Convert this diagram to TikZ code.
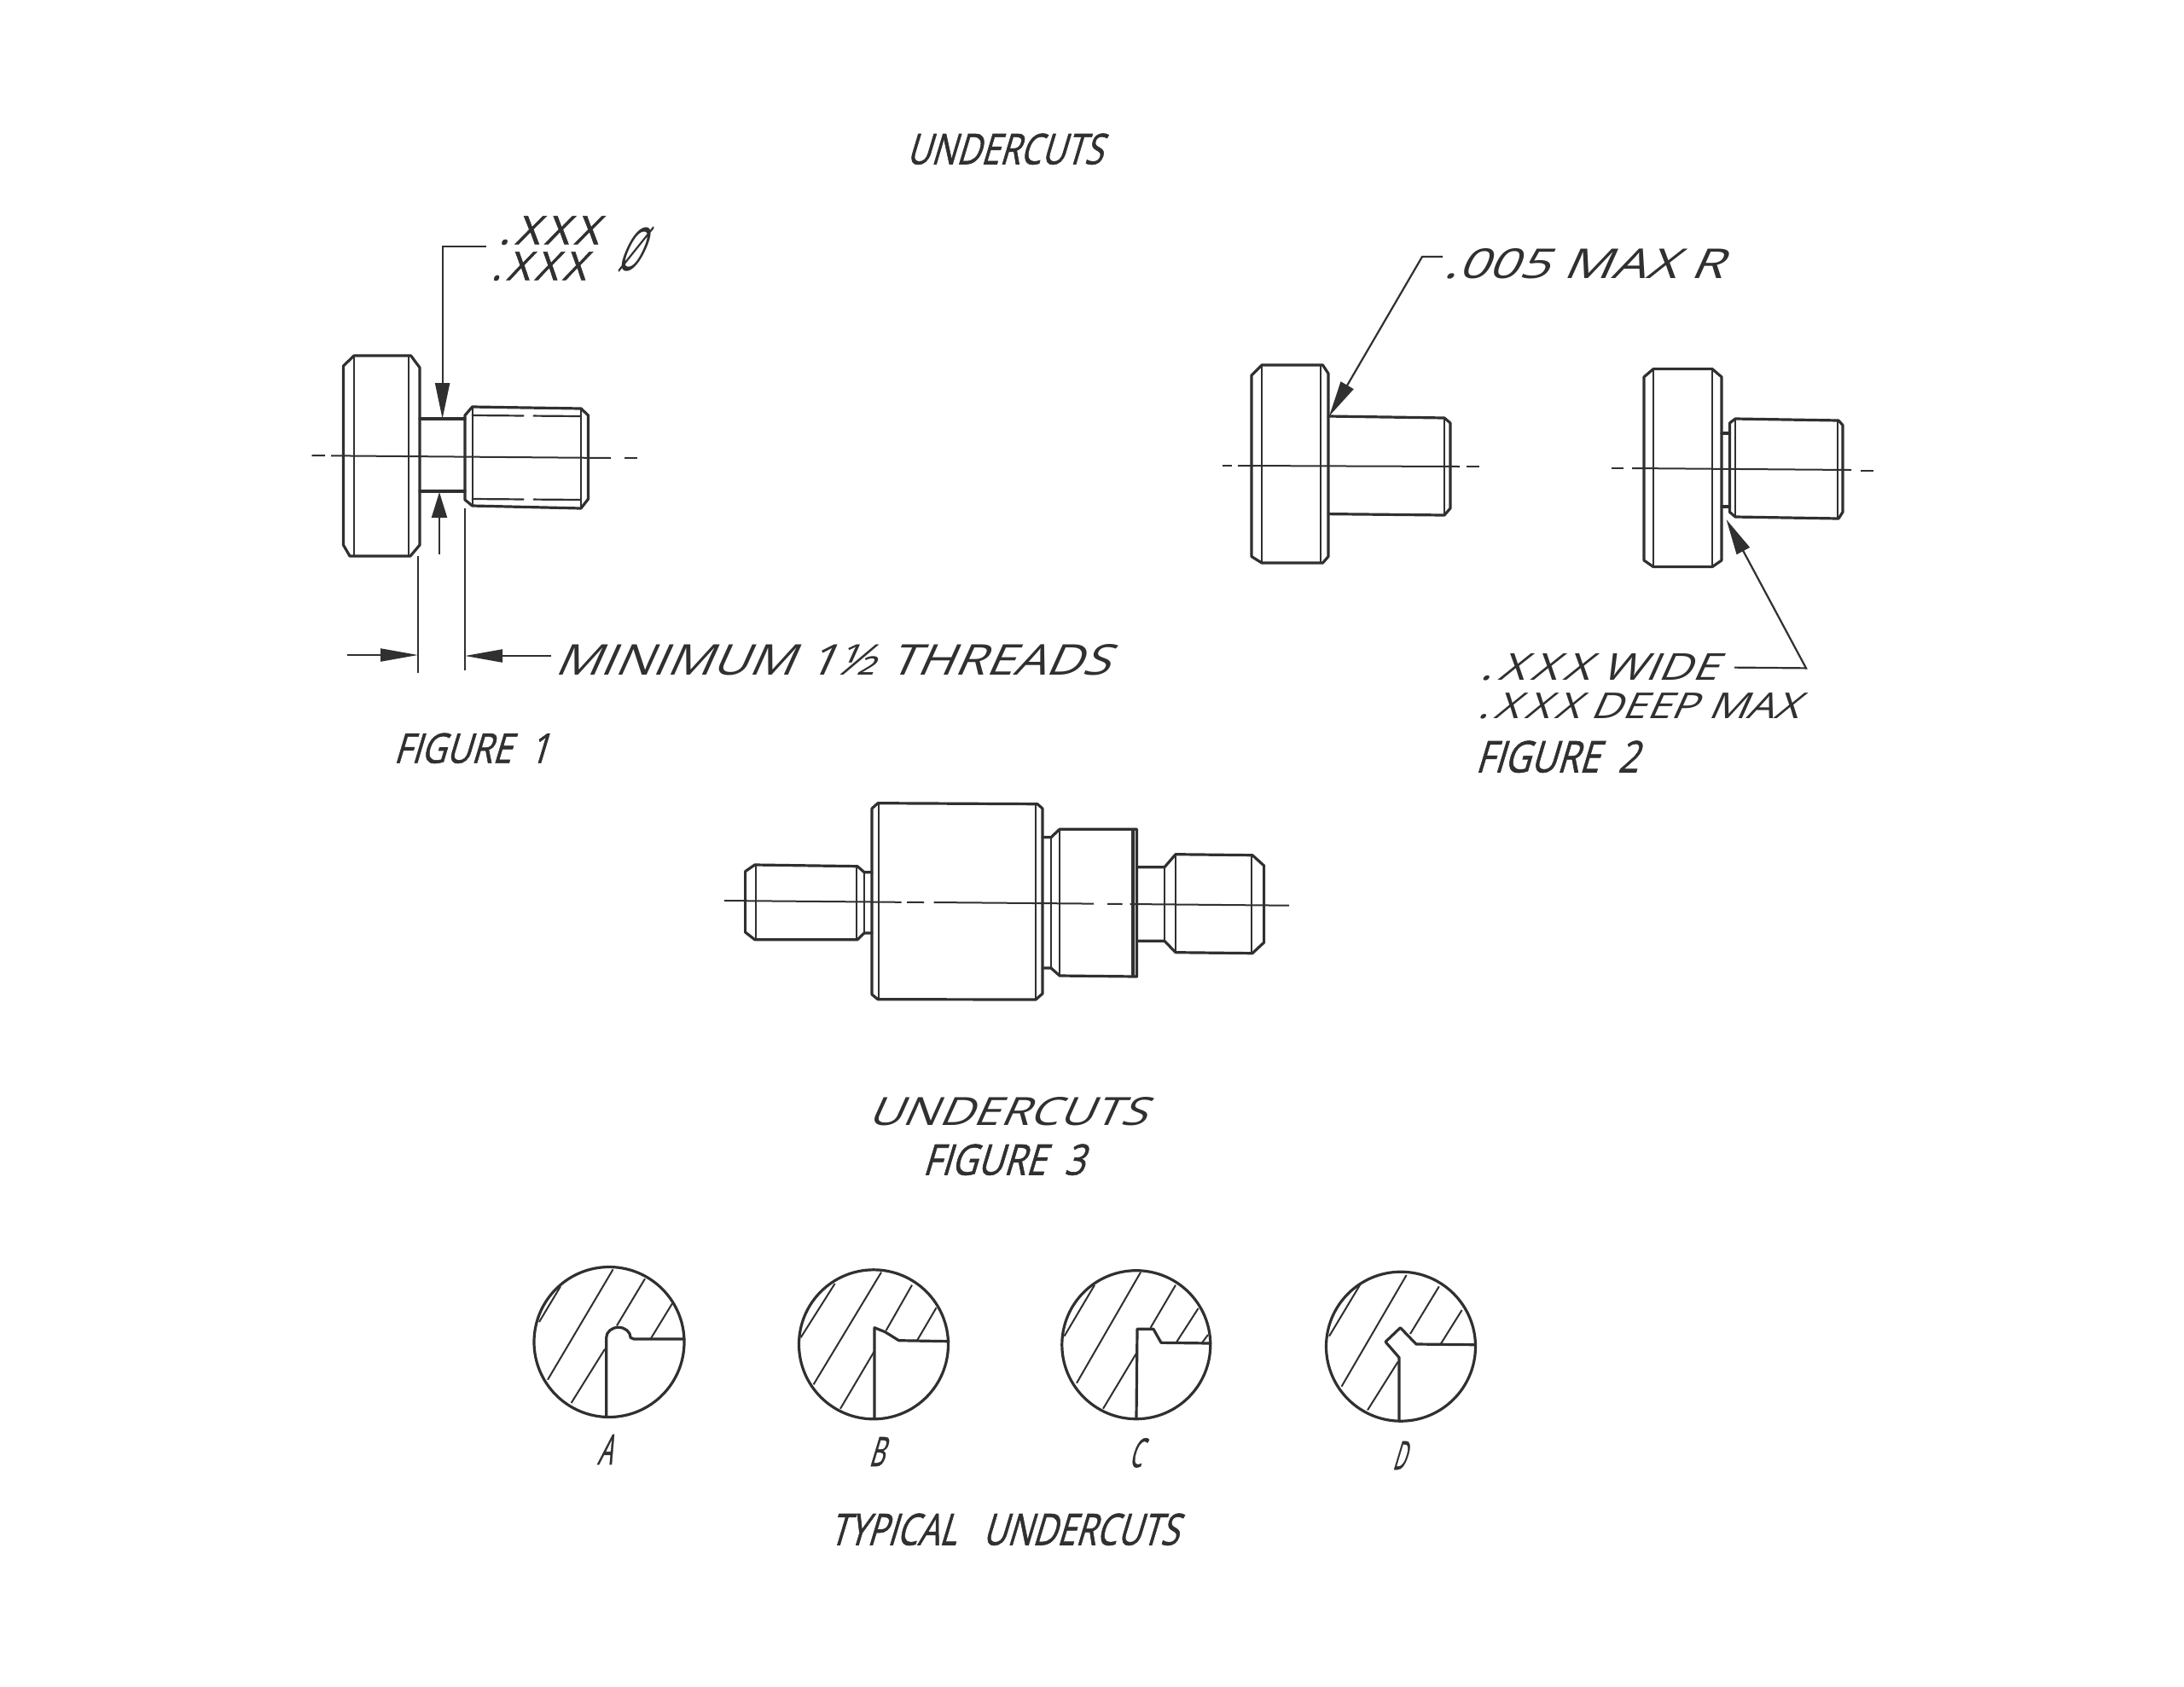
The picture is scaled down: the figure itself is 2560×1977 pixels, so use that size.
\documentclass[tikz,border=0pt]{standalone}
\usepackage{fontspec}
\usepackage{graphicx}
\usetikzlibrary{arrows.meta}
\setmainfont{Open Sans}
\newfontfamily\stencilface[FakeBold=1.2]{Open Sans}
\newlength\pxu
\setlength\pxu{0.5pt}
\definecolor{ink}{HTML}{303030}
\tikzset{
  body/.style={draw=ink,line width=1.6pt,line join=round,line cap=round},
  thin/.style={draw=ink,line width=1.1pt,line cap=round},
  ctr/.style={draw=ink,line width=1.0pt},
  hatchline/.style={draw=ink,line width=1.0pt},
  lead/.style={draw=ink,line width=1.1pt},
  tipa/.style={-{Stealth[length=21pt,width=8.5pt,inset=0pt]}},
  tipb/.style={-{Stealth[length=15pt,width=9pt,inset=0pt]}},
  tipc/.style={-{Stealth[length=22pt,width=7.5pt,inset=0pt]}},
  lettering/.style={anchor=south west,inner sep=0pt,outer sep=0pt,xslant=.3,text=ink},
  handletter/.style={anchor=south west,inner sep=0pt,outer sep=0pt,xslant=.45,text=ink}
}
% squeezed, emboldened caps (the stencilled labels)
\newcommand{\lett}[6]{\node[lettering] (#1) at (#2,#3) {\resizebox{#4\pxu}{#5\pxu}{\stencilface #6}};}
% wide caps, more slanted (the hand-written labels)
\newcommand{\hand}[6]{\node[handletter] (#1) at (#2,#3) {\resizebox{#4\pxu}{#5\pxu}{#6}};}
\newcommand{\lsp}{\kern.12em }
\begin{document}
\begin{tikzpicture}[x=0.5pt,y=-0.5pt]
\useasboundingbox (0,0) rectangle (2560,1977);
\fill[white] (0,0) rectangle (2560,1977);
% title
\lett{title}{1062}{193}{230}{36}{UNDERCUTS}
% ---------- Figure 1
\draw[body] (415,417) -- (481.6,417) -- (492,431) -- (492,639) -- (481,652) -- (410,652) -- (402.5,639) -- (402.5,429) -- cycle;
\draw[thin] (415,417) -- (415,652);
\draw[thin] (479,417) -- (479,652);
\draw[body] (492,491) -- (545,491);
\draw[body] (492,576) -- (545,576);
\draw[body] (545,487) -- (553.6,477) -- (681,479) -- (689.5,487) -- (689.5,585) -- (681,596) -- (553.6,593) -- (545,586) -- cycle;
\draw[thin] (553.6,477) -- (553.6,593);
\draw[thin] (681,479) -- (681,596);
\draw[thin,dash pattern=on 30pt off 6pt] (553.6,487) -- (681,488);
\draw[thin,dash pattern=on 30pt off 6pt] (553.6,585) -- (681,586);
\draw[ctr] (365.5,534) -- (381,534.2);
\draw[ctr] (388,534.3) -- (716,537);
\draw[ctr] (732,537) -- (747,537);
\coordinate (l1a) at (569.6,288.6);
\coordinate (l1b) at (518.6,288.6);
\coordinate (l1c) at (518.6,491);
\coordinate (l2a) at (515,650);
\coordinate (l2b) at (515,577);
\draw[lead,tipa] (l1a) -- (l1b) -- (l1c);
\draw[lead,tipb] (l2a) -- (l2b);
\coordinate (e1a) at (490,652);
\coordinate (e1b) at (490,789);
\coordinate (e2a) at (545,596);
\coordinate (e2b) at (545,785.5);
\draw[lead] (e1a) -- (e1b);
\draw[lead] (e2a) -- (e2b);
\coordinate (d1a) at (407,768);
\coordinate (d1b) at (490,768);
\coordinate (d2a) at (646,769);
\coordinate (d2b) at (545,769);
\draw[lead,tipc] (d1a) -- (d1b);
\draw[lead,tipc] (d2a) -- (d2b);
\lett{xa}{584}{287}{117}{33}{.\lsp X\lsp X\lsp X}
\lett{xb}{575}{329}{111}{33}{.\lsp X\lsp X\lsp X}
\hand{dia}{721}{320}{27}{52}{Ø}
\hand{mini}{649}{792}{651}{36}{MINIMUM 1½ THREADS}
\lett{fig1}{461}{895}{182}{35}{FIGURE\ \ 1}
% ---------- Figure 2 left
\draw[body] (1479,428) -- (1550.5,428) -- (1557,438) -- (1557,652.5) -- (1550.5,660) -- (1479,660) -- (1467,652.5) -- (1467,440) -- cycle;
\draw[thin] (1479,428) -- (1479,660);
\draw[thin] (1548,428) -- (1548,660);
\draw[body] (1557,488) -- (1693,490) -- (1700,496) -- (1700,596) -- (1693,604) -- (1557,602.6);
\draw[thin] (1693,490) -- (1693,604);
\draw[ctr] (1433,546) -- (1444,546);
\draw[ctr] (1451,546) -- (1711,547);
\draw[ctr] (1719,547) -- (1734,547);
\coordinate (r1a) at (1691,301);
\coordinate (r1b) at (1667,301);
\coordinate (r1c) at (1558,488);
\draw[lead,tipa] (r1a) -- (r1b) -- (r1c);
\hand{rad}{1691}{327}{328}{35}{.005 MAX R}
% ---------- Figure 2 right
\draw[body] (1938,432.6) -- (2007,432.6) -- (2018,442) -- (2018,657) -- (2007,664.6) -- (1938,664.6) -- (1927,657) -- (1927,442) -- cycle;
\draw[thin] (1938,432.6) -- (1938,664.6);
\draw[thin] (2007,432.6) -- (2007,664.6);
\draw[body] (2018,508) -- (2027.5,508);
\draw[body] (2018,594) -- (2027.5,594);
\draw[body] (2027.5,496) -- (2034,491) -- (2155,493) -- (2160,498.5) -- (2160,600.4) -- (2155,608) -- (2034,606) -- (2027.5,600.4) -- cycle;
\draw[thin] (2034,491) -- (2034,606);
\draw[thin] (2154,493) -- (2154,608);
\draw[ctr] (1889,549) -- (1903,549);
\draw[ctr] (1913,549) -- (2170,551);
\draw[ctr] (2181,552) -- (2196,552);
\coordinate (w1) at (2033,782.6);
\coordinate (w2) at (2117,783.4);
\coordinate (w3) at (2023.5,609);
\draw[lead,tipa] (w1) -- (w2) -- (w3);
\hand{wide}{1734}{798}{278}{31}{.\lsp X\lsp X\lsp X WIDE}
\hand{deep}{1731}{843}{377}{30}{.\lsp X\lsp X\lsp X DEEP MAX}
\lett{fig2}{1729}{906}{191}{37}{FIGURE\ \ 2}
% ---------- Figure 3
\draw[body] (1022,1022.7) -- (1013,1022.7) -- (1005,1015.7) -- (884.7,1014) -- (873.6,1021.7) -- (873.6,1093) -- (884.7,1101.7) -- (1005,1101.7) -- (1013,1094) -- (1022,1094);
\draw[thin] (885.6,1014) -- (885.6,1101.7);
\draw[thin] (1004,1015.7) -- (1004,1101.7);
\draw[thin] (1013,1022.7) -- (1013,1094);
\draw[body] (1029,941.7) -- (1216,942.7) -- (1222,948) -- (1222,1165) -- (1214,1172) -- (1029,1171.7) -- (1022,1166) -- (1022,948) -- cycle;
\draw[thin] (1030,941.7) -- (1030,1171.7);
\draw[thin] (1214,942.7) -- (1214,1172);
\draw[body] (1222,981.7) -- (1232,981.7) -- (1242,972.3) -- (1332.5,972.3) -- (1332.5,1145) -- (1242,1144) -- (1232,1135) -- (1222,1135);
\draw[thin] (1232,981.7) -- (1232,1135);
\draw[thin] (1242,972.3) -- (1242,1144);
\draw[body] (1328,974) -- (1328,1143);
\draw[body] (1332.5,1016.7) -- (1365,1016.7) -- (1378,1001.7) -- (1468,1002.7) -- (1481.6,1015) -- (1481.6,1105) -- (1468,1117.7) -- (1378,1116.7) -- (1365,1103.3) -- (1332.5,1103.3);
\draw[thin] (1365,1016.7) -- (1365,1103.3);
\draw[thin] (1378,1001.7) -- (1378,1116.7);
\draw[thin] (1467,1002.7) -- (1467,1117.7);
\draw[ctr] (849,1056) -- (1056.6,1057.8);
\draw[ctr] (1063,1057.8) -- (1083,1058);
\draw[ctr] (1094.5,1058) -- (1282,1059.6);
\draw[ctr] (1298,1059.8) -- (1315.5,1060);
\draw[ctr] (1324.5,1060) -- (1511,1061.7);
\hand{und}{1016}{1320}{327}{33}{UNDERCUTS}
\lett{fig3}{1081}{1378}{190}{36}{FIGURE\ \ 3}
% ---------- Typical undercuts
% A
\coordinate (ca) at (714,1573.5);
\draw[body] (ca) circle[radius=88];
\draw[body] (710.7,1660) -- (710.7,1568.3) arc[start angle=180,end angle=0,x radius=14.2,y radius=-12] -- (743,1570) -- (802,1570);
\draw[hatchline] (642,1617.7) -- (718.6,1488.3);
\draw[hatchline] (669.6,1645) -- (709,1581.7);
\draw[hatchline] (723,1554.3) -- (756,1499.3);
\draw[hatchline] (762.5,1570) -- (788,1528.3);
\draw[hatchline] (632,1550) -- (657,1508.3);
\lett{la}{700}{1717}{17}{35}{A}
% B
\coordinate (cb) at (1024,1576.3);
\draw[body] (cb) circle[radius=87.5];
\draw[body] (1025,1663) -- (1025,1556.7) -- (1037.5,1561.7) -- (1053.6,1571.7) -- (1112,1572.7);
\draw[hatchline] (953.6,1623.3) -- (1033,1491.7);
\draw[hatchline] (985,1651.7) -- (1025,1584);
\draw[hatchline] (1038.6,1560) -- (1069,1506.7);
\draw[hatchline] (1075,1571.7) -- (1097.5,1533.3);
\draw[hatchline] (938.6,1568.3) -- (978.6,1505);
\lett{lb}{1018}{1719}{18}{34}{B}
% C
\coordinate (cc) at (1331.8,1576.7);
\draw[body] (cc) circle[radius=87];
\draw[body] (1332,1663.3) -- (1333,1558.3) -- (1352,1558.3) -- (1361,1574.3) -- (1419,1575);
\draw[hatchline] (1262,1621.7) -- (1337,1491.7);
\draw[hatchline] (1293,1651.7) -- (1332,1586.7);
\draw[hatchline] (1348.6,1556.7) -- (1378,1506.7);
\draw[hatchline] (1378.6,1574.3) -- (1404.6,1534);
\draw[hatchline] (1247.5,1566.7) -- (1283,1506.7);
\draw[hatchline] (1409,1574.3) -- (1416,1565);
\lett{lc}{1323}{1720.7}{15}{34}{C}
% D
\coordinate (cd) at (1642,1578.7);
\draw[body] (cd) circle[radius=87.5];
\draw[body] (1640,1665) -- (1640,1591.7) -- (1624,1573.3) -- (1641.4,1556.7) -- (1660,1576) -- (1729.6,1576.7);
\draw[hatchline] (1572.5,1625.7) -- (1648.6,1495);
\draw[hatchline] (1603,1653.3) -- (1638.6,1596.7);
\draw[hatchline] (1653,1564) -- (1686.8,1508.3);
\draw[hatchline] (1688.6,1576) -- (1713.6,1536);
\draw[hatchline] (1558,1566.7) -- (1594,1506.7);
\lett{ld}{1632}{1723}{15}{33}{D}
\lett{typ}{972}{1812}{409}{37}{TYPICAL\ \ \ UNDERCUTS}
\end{tikzpicture}
\end{document}
